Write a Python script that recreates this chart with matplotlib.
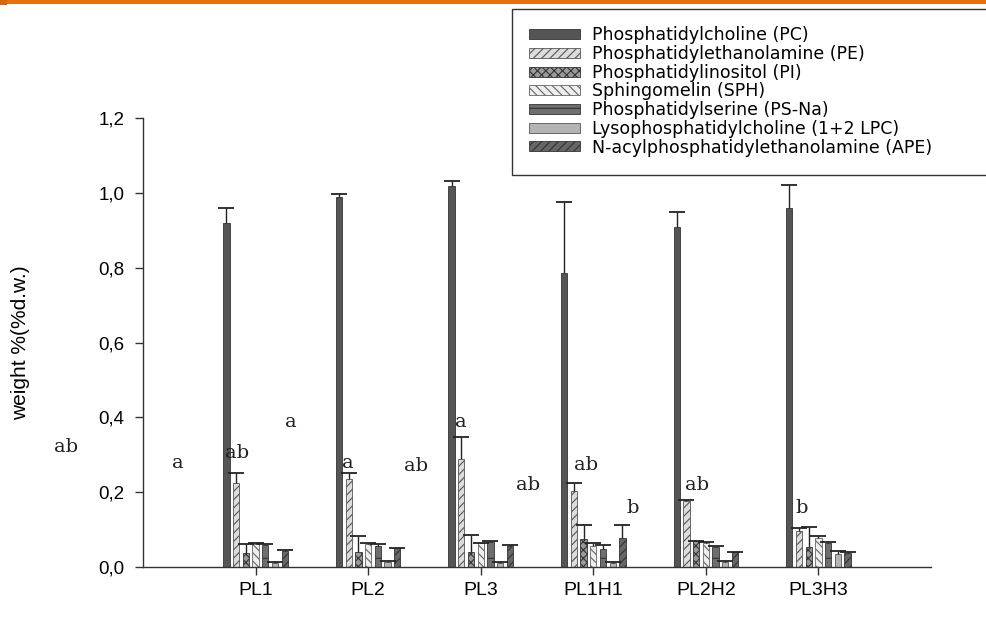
import numpy as np
import matplotlib
matplotlib.use("Agg")
import matplotlib.pyplot as plt
from matplotlib.patches import Rectangle

# data
groups = ['PL1', 'PL2', 'PL3', 'PL1H1', 'PL2H2', 'PL3H3']
pc = [0.920, 0.990, 1.020, 0.785, 0.910, 0.960]
pc_err = [0.040, 0.008, 0.013, 0.190, 0.040, 0.062]
pe = [0.223, 0.234, 0.289, 0.203, 0.177, 0.096]
pe_err = [0.027, 0.016, 0.057, 0.022, 0.002, 0.007]
pi = [0.036, 0.040, 0.040, 0.075, 0.068, 0.052]
pi_err = [0.025, 0.042, 0.045, 0.037, 0.002, 0.055]
sph = [0.061, 0.061, 0.063, 0.056, 0.064, 0.078]
sph_err = [0.003, 0.002, 0.001, 0.007, 0.001, 0.005]
ps = [0.058, 0.055, 0.067, 0.047, 0.054, 0.063]
ps_err = [0.003, 0.006, 0.001, 0.011, 0.001, 0.004]
lpc = [0.011, 0.013, 0.011, 0.011, 0.013, 0.034]
lpc_err = [0.002, 0.002, 0.002, 0.002, 0.001, 0.009]
ape = [0.043, 0.049, 0.056, 0.077, 0.039, 0.038]
ape_err = [0.002, 0.002, 0.002, 0.035, 0.001, 0.002]

labels = ['Phosphatidylcholine (PC)', 'Phosphatidylethanolamine (PE)',
          'Phosphatidylinositol (PI)', 'Sphingomelin (SPH)',
          'Phosphatidylserine (PS-Na)', 'Lysophosphatidylcholine (1+2 LPC)',
          'N-acylphosphatidylethanolamine (APE)']

# significance letters (annotation text + where they sit)
letters = ['ab', 'a', 'ab', 'a', 'a', 'ab', 'a', 'ab', 'ab', 'b', 'ab', 'b']
letter_pos = [(-1.68, 0.32), (-0.69, 0.278), (-0.16, 0.305), (0.317, 0.388),
              (0.821, 0.277), (1.423, 0.270), (1.824, 0.388), (2.423, 0.219),
              (2.936, 0.272), (3.352, 0.157), (3.926, 0.219), (4.855, 0.157)]

series = [pc, pe, pi, sph, ps, lpc, ape]
errors = [pc_err, pe_err, pi_err, sph_err, ps_err, lpc_err, ape_err]
faces = ['#555555', '#dcdcdc', '#9a9a9a', '#eeeeee', '#6e6e6e', '#b4b4b4', '#666666']
hatches = [None, '////', 'xxxx', '\\\\\\\\', '-', None, '////']
edges = ['#333333', '#555555', '#333333', '#666666', '#333333', '#555555', '#333333']

plt.rcParams['hatch.linewidth'] = 0.8
fig = plt.figure(figsize=(9.87, 6.17), dpi=100)
ax = fig.add_axes([143/987, 1-566.7/617, (931-143)/987, (566.7-118.3)/617])

x = np.arange(len(groups))
step = 0.0863
width = 0.055
handles = []
for i, (vals, err) in enumerate(zip(series, errors)):
    xs = x + (i - 3) * step
    b = ax.bar(xs, vals, width, color=faces[i], edgecolor=edges[i], hatch=hatches[i],
               linewidth=0.6, label=labels[i], zorder=2)
    handles.append(b)
    eb = ax.errorbar(xs, vals, yerr=[np.zeros(len(vals)), err], fmt='none', ecolor='#222222',
                     elinewidth=1, capsize=5.5, capthick=1.3, zorder=3)
    eb[1][0].set_visible(False)  # only the upper cap

for t, (lx, ly) in zip(letters, letter_pos):
    ax.text(lx, ly, t, ha='center', va='center', fontsize=14,
            family='DejaVu Serif', color='#222222', clip_on=False)

ax.set_xlim(-1, 6)
ax.set_ylim(0, 1.2)
ax.set_xticks(x)
ax.set_xticklabels(groups, family='Liberation Sans', fontsize=14)
ax.set_yticks(np.arange(0, 1.21, 0.2))
ax.set_yticklabels([f'{v:.1f}'.replace('.', ',') for v in np.arange(0, 1.21, 0.2)],
                   family='Liberation Sans', fontsize=13.5)
ax.tick_params(axis='y', length=6, width=1, pad=7.5, color='#333333')
ax.tick_params(axis='x', length=6, width=1, pad=5, color='#333333')
for s in ['top', 'right']:
    ax.spines[s].set_visible(False)
for s in ['left', 'bottom']:
    ax.spines[s].set_color('#333333')
    ax.spines[s].set_linewidth(1)

ax.set_ylabel('weight %(%d.w.)', family='Liberation Sans', fontsize=15)
ax.yaxis.set_label_coords(-0.143, 0.5)

leg = fig.legend(handles=handles, loc='upper left',
                 bbox_to_anchor=(512/987, 1-9/617),
                 bbox_transform=fig.transFigure, borderaxespad=0,
                 prop={'family': 'DejaVu Sans', 'size': 12.5},
                 handlelength=2.9, handleheight=0.5, handletextpad=0.7,
                 labelspacing=0.04, borderpad=1.0, frameon=False)

# legend frame: runs off the right edge of the picture like in the original
fig.add_artist(Rectangle((512/987, 1-175/617), (1010-512)/987, (175-9)/617,
                         transform=fig.transFigure, facecolor='white',
                         edgecolor='#333333', linewidth=1, zorder=0.5))

# orange strip along the top edge
fig.add_artist(Rectangle((0, 1-4/617), 1, 4/617, transform=fig.transFigure,
                         facecolor='#e5700f', edgecolor='none'))
fig.add_artist(Rectangle((0, 1-5/617), 7/987, 5/617, transform=fig.transFigure,
                         facecolor='#d86608', edgecolor='none'))

fig.savefig('out.png', dpi=100)
